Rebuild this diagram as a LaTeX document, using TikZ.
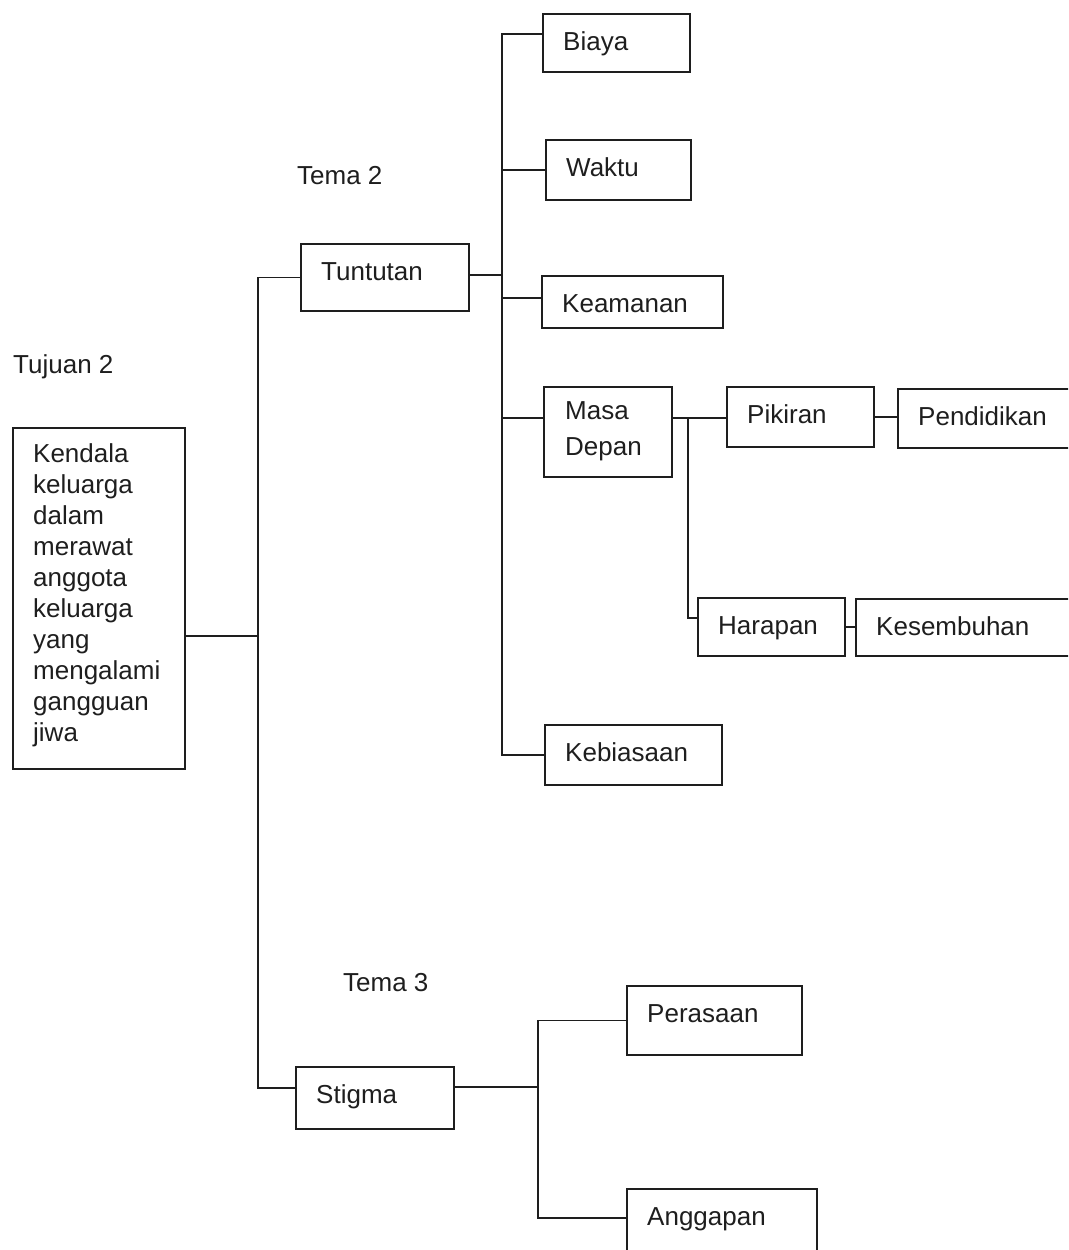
\documentclass[tikz,border=0pt]{standalone}
\usepackage{fontspec}
\setmainfont{Liberation Sans}
\usetikzlibrary{calc}
\definecolor{ink}{HTML}{1E1E1E}
\tikzset{
  frame/.style={draw=ink, line width=1.8pt, rectangle, inner sep=0pt, anchor=north west},
  lbl/.style={inner sep=0pt, anchor=base west, text=ink, font=\fontsize{26}{31}\selectfont},
  link/.style={draw=ink, line width=1.8pt},
}
% box: name, left, top, width, height, text (baseline 37 below the top edge)
\newcommand\mkbox[6]{%
  \node[frame, minimum width=#4pt, minimum height=#5pt] (#1) at (#2,#3) {};
  \node[lbl] (#1-t) at ($(#1.north west)+(21,37)$) {#6};
}
\begin{document}
\begin{tikzpicture}[x=1pt, y=-1pt]
\useasboundingbox (0,0) rectangle (1068,1250);
\clip (0,0) rectangle (1068,1250);

% free headings
\node[lbl] (tujuan) at (13,373) {Tujuan 2};
\node[lbl] (tema2) at (297,184) {Tema 2};
\node[lbl] (tema3) at (343,991) {Tema 3};

% root
\node[frame, minimum width=172pt, minimum height=341pt] (kendala) at (12,427) {};
\node[lbl, anchor=north west, align=left] (kendala-t) at (33,443.5)
  {Kendala\\keluarga\\dalam\\merawat\\anggota\\keluarga\\yang\\mengalami\\gangguan\\jiwa};

% themes
\mkbox{tuntutan}{300}{243}{168}{67}{Tuntutan}
\mkbox{stigma}{295}{1066}{158}{62}{Stigma}

% sub-themes of Tuntutan
\mkbox{biaya}{542}{13}{147}{58}{Biaya}
\mkbox{waktu}{545}{139}{145}{60}{Waktu}
\mkbox{keamanan}{541}{275}{181}{52}{Keamanan}
\node[frame, minimum width=128pt, minimum height=90pt] (masa) at (543,386) {};
\node[lbl, anchor=north west, align=left] (masa-t) at (565,401.5) {Masa\\[5pt]Depan};
\mkbox{kebiasaan}{544}{724}{177}{60}{Kebiasaan}

% categories of Masa Depan
\mkbox{pikiran}{726}{386}{147}{60}{Pikiran}
\mkbox{pendidikan}{897}{388}{190}{59}{Pendidikan}
\mkbox{harapan}{697}{597}{147}{58}{Harapan}
\mkbox{kesembuhan}{855}{598}{230}{57}{Kesembuhan}

% sub-themes of Stigma
\mkbox{perasaan}{626}{985}{175}{69}{Perasaan}
\mkbox{anggapan}{626}{1188}{190}{75}{Anggapan}

% junction points
\coordinate (trunk) at (258,636);
\coordinate (spine) at (502,275);
\coordinate (fork) at (688,418);
\coordinate (sfork) at (538,1087);

% root to themes
\draw[link] (trunk -| kendala.east) -- (trunk);
\draw[link] (tuntutan.west) -| (trunk) |- ([yshift=10pt]stigma.west);

% Tuntutan to its sub-themes
\draw[link] (tuntutan.east |- spine) -- (spine);
\draw[link] ([yshift=9pt]biaya.west) -| (spine) |- (kebiasaan.west);
\draw[link] (waktu.west) -- (waktu.west -| spine);
\draw[link] ([yshift=4pt]keamanan.west) -- ([yshift=4pt]keamanan.west -| spine);
\draw[link] (masa.west |- fork) -- (fork -| spine);

% Masa Depan to its categories
\draw[link] (masa.east |- fork) -- (fork -| pikiran.west);
\draw[link] (fork) |- ([yshift=9pt]harapan.west);
\draw[link] (pikiran.east) -- (pikiran.east -| pendidikan.west);
\draw[link] (harapan.east) -- (harapan.east -| kesembuhan.west);

% Stigma to its sub-themes
\draw[link] (stigma.east |- sfork) -- (sfork);
\draw[link] (perasaan.west) -| (sfork) |- (anggapan.west |- 0,1218);
\end{tikzpicture}
\end{document}
